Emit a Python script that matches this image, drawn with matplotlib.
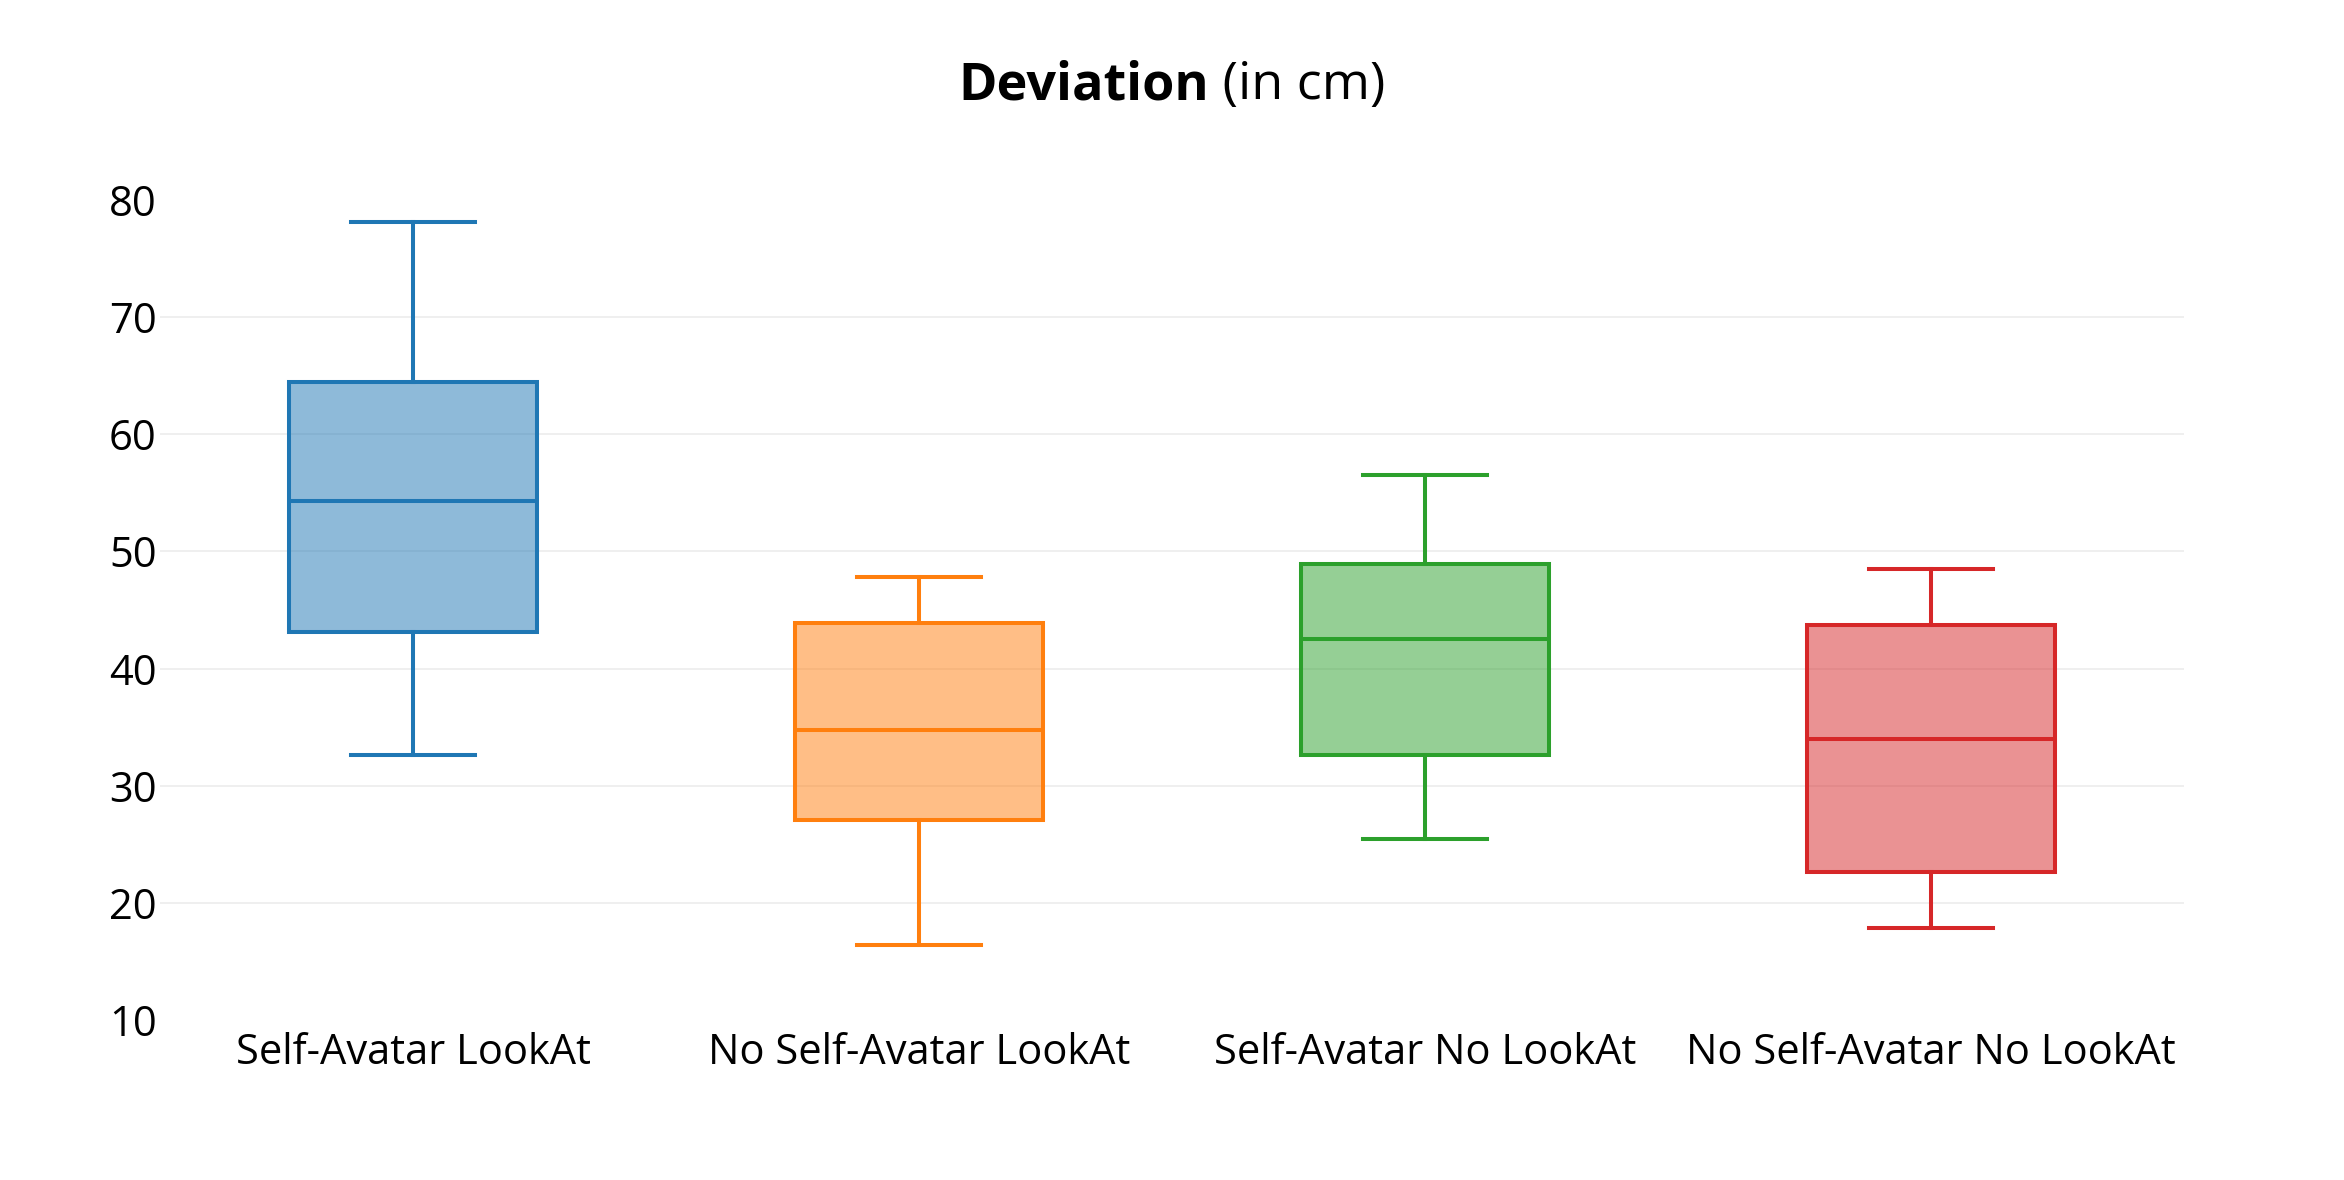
import matplotlib
matplotlib.use('Agg')
import matplotlib.pyplot as plt
from matplotlib.colors import to_rgba

# box statistics (cm)
labels = ['Self-Avatar LookAt', 'No Self-Avatar LookAt',
          'Self-Avatar No LookAt', 'No Self-Avatar No LookAt']
whislo = [32.6, 16.4, 25.5, 17.9]
q1 = [43.1, 27.1, 32.6, 22.7]
med = [54.3, 34.8, 42.5, 34.0]
q3 = [64.4, 43.9, 48.9, 43.7]
whishi = [78.1, 47.8, 56.5, 48.5]
colors = ['#1f77b4', '#ff7f0e', '#2ca02c', '#d62728']
yticks = [10, 20, 30, 40, 50, 60, 70, 80]

plt.rcParams['font.family'] = ['Open Sans', 'DejaVu Sans']

fig = plt.figure(figsize=(23.44, 11.80), dpi=100)
ax = fig.add_axes([160 / 2344, 1 - 1020.5 / 1180, 2024 / 2344, 821 / 1180])

stats = []
for i in range(len(labels)):
    stats.append(dict(label=labels[i], whislo=whislo[i], q1=q1[i], med=med[i],
                      q3=q3[i], whishi=whishi[i]))

bp = ax.bxp(stats, positions=range(len(labels)), widths=0.49, capwidths=0.245,
            patch_artist=True, showfliers=False)

lw = 2.9
for i, c in enumerate(colors):
    bp['boxes'][i].set_facecolor(to_rgba(c, 0.5))
    bp['boxes'][i].set_edgecolor(c)
    bp['boxes'][i].set_linewidth(lw)
    bp['medians'][i].set_color(c)
    bp['medians'][i].set_linewidth(lw)
    for k in (2 * i, 2 * i + 1):
        bp['whiskers'][k].set_color(c)
        bp['whiskers'][k].set_linewidth(lw)
        bp['caps'][k].set_color(c)
        bp['caps'][k].set_linewidth(lw)

ax.set_xlim(-0.5, 3.5)
ax.set_ylim(10, 80)
ax.set_yticks(yticks)
ax.set_xticks(range(len(labels)))
ax.set_xticklabels(labels)
ax.tick_params(axis='both', length=0, labelsize=30, colors='black')
ax.tick_params(axis='y', pad=2.5)
ax.tick_params(axis='x', pad=8)
ax.set_axisbelow(True)
ax.grid(axis='y', color='#ebebeb', linewidth=1.1)
for g, t in zip(ax.yaxis.get_gridlines(), yticks):
    if t in (10, 80):
        g.set_visible(False)
for s in ax.spines.values():
    s.set_visible(False)

# title: bold part + regular part, centred together
r = fig.canvas.get_renderer()
t1 = fig.text(0, 0, 'Deviation', fontsize=37.5, fontweight='bold')
t2 = fig.text(0, 0, ' (in cm)', fontsize=37.5)
w1 = t1.get_window_extent(r).width
w2 = t2.get_window_extent(r).width
x0 = 1172 - (w1 + w2) / 2
yb = 1 - 99 / 1180
t1.set_position((x0 / 2344, yb))
t2.set_position(((x0 + w1) / 2344, yb))

fig.savefig('out.png', dpi=100)
